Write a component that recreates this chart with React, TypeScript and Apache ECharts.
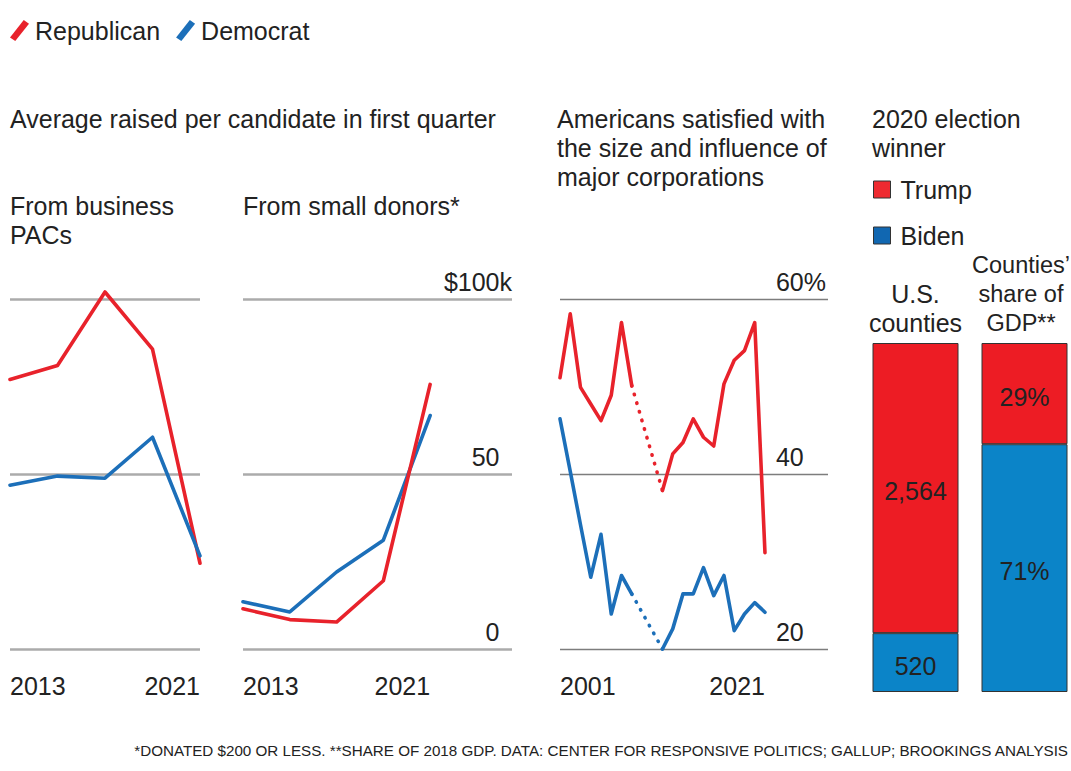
import React, { useEffect, useRef } from "react";
import * as echarts from "echarts";

const FONT = "'Liberation Sans', Arial, sans-serif";
const FS = 25;
const RED = "#E8222B";
const BLUE = "#1C6FB9";
const BAR_RED = "#ED1C24";
const BAR_BLUE = "#0B84C8";
const TEXT = "#222222";

// Panel 1 & 2: average raised per candidate in first quarter ($k)
const cycleYears = [2013, 2015, 2017, 2019, 2021];
const pacRep = [77, 81, 102, 85.7, 24.5];
const pacDem = [46.8, 49.4, 48.8, 60.5, 26.6];
const smallRep = [11.5, 8.4, 7.7, 19.5, 75.6];
const smallDem = [13.5, 10.6, 22.0, 31.1, 66.7];
const moneyTicks = [0, 50, 100];

// Panel 3: Americans satisfied with size and influence of major corporations (%)
const satYears = [2001, 2002, 2003, 2004, 2005, 2006, 2007, 2008, 2009, 2010, 2011, 2012, 2013, 2014, 2015, 2016, 2017, 2018, 2019, 2020, 2021];
const satRep = [51.0, 58.3, 49.9, 48.0, 46.1, 49.0, 57.3, 50.1, null, null, 38.1, 42.3, 43.6, 46.3, 44.2, 43.2, 50.3, 53.0, 54.1, 57.3, 31.0];
const satDem = [46.3, 40.3, 34.2, 28.2, 33.1, 24.0, 28.4, 26.3, null, null, 20.0, 22.3, 26.3, 26.3, 29.3, 26.1, 28.4, 22.1, 24.0, 25.3, 24.2];
const gapFrom = 2008;
const gapTo = 2011;

// Panel 4: 2020 election winner
const barCategories = ["U.S.\ncounties", "Counties\u2019\nshare of\nGDP**"];
const trumpValues = [2564, 29];
const bidenValues = [520, 71];
const barUnits = ["", "%"];

const SLASH = "path://M0.4,14.5 L11.4,0.6 L15.6,3.5 L4.6,17.4 Z";

function pairs(xs: number[], ys: (number | null)[]) {
  return xs.map((x, i) => [x, ys[i] === null ? null : ys[i]]);
}
function gapPairs(ys: (number | null)[]) {
  const a = satYears.indexOf(gapFrom);
  const b = satYears.indexOf(gapTo);
  return [[satYears[a], ys[a]], [satYears[b], ys[b]]];
}

export default function App() {
  const ref = useRef<HTMLDivElement>(null);
  useEffect(() => {
    if (!ref.current) return;
    const chart = echarts.init(ref.current, null, { renderer: "svg" });
    const totals = trumpValues.map((v, i) => v + bidenValues[i]);
    const fmt = (v: number, i: number) => v.toLocaleString("en-US") + barUnits[i];

    const lineBase = (name: string, color: string, gridIndex: number, data: any[]) => ({
      type: "line",
      name,
      xAxisIndex: gridIndex,
      yAxisIndex: gridIndex,
      data,
      symbol: "none",
      clip: false,
      connectNulls: false,
      color,
      lineStyle: { color, width: 3.6, cap: "round", join: "round" },
      z: 3,
    });
    const dotted = (name: string, color: string, data: any[]) => ({
      type: "line",
      name,
      xAxisIndex: 2,
      yAxisIndex: 2,
      data,
      symbol: "none",
      clip: false,
      color,
      lineStyle: { color, width: 3.6, type: [0.5, 8.5], cap: "round" },
      z: 3,
    });

    const xBase = {
      type: "value",
      axisLine: { show: false },
      axisTick: { show: false },
      splitLine: { show: false },
    };
    const yearLabel = {
      fontSize: FS,
      fontFamily: FONT,
      color: TEXT,
      margin: 24,
      formatter: (v: number) => String(v),
    };
    const heading = (x: number, y: number, text: string) => ({
      type: "text",
      x,
      y,
      style: { text, fontSize: FS, lineHeight: 29, fontFamily: FONT, fill: TEXT, verticalAlign: "top" },
    });

    const option: any = {
      animation: false,
      textStyle: { fontFamily: FONT },
      legend: [
        {
          data: ["Republican", "Democrat"],
          left: 10,
          top: 18,
          padding: 0,
          icon: SLASH,
          itemWidth: 19,
          itemHeight: 21,
          itemGap: 16,
          selectedMode: false,
          itemStyle: { borderWidth: 0 },
          textStyle: { fontSize: FS, color: TEXT, fontFamily: FONT, padding: [0, 0, 0, 1] },
        },
        {
          data: [
            { name: "Trump", itemStyle: { color: "#EE2A30" } },
            { name: "Biden", itemStyle: { color: "#1167B1" } },
          ],
          orient: "vertical",
          left: 873,
          top: 177,
          padding: 0,
          icon: "rect",
          itemWidth: 17,
          itemHeight: 17,
          itemGap: 21,
          selectedMode: false,
          itemStyle: { borderColor: "#333", borderWidth: 1 },
          textStyle: { fontSize: FS, lineHeight: 24, color: TEXT, fontFamily: FONT, padding: [0, 0, 0, 5] },
        },
      ],
      grid: [
        { left: 10, top: 299, width: 190, height: 350, outerBoundsMode: "none" },
        { left: 243, top: 299, width: 269, height: 350, outerBoundsMode: "none" },
        { left: 560, top: 299, width: 268, height: 350, outerBoundsMode: "none" },
        { left: 915.5, top: 343, width: 109, height: 349, outerBoundsMode: "none" },
      ],
      xAxis: [
        {
          ...xBase,
          gridIndex: 0,
          min: cycleYears[0],
          max: cycleYears[cycleYears.length - 1],
          axisLabel: { ...yearLabel, customValues: [2013, 2021], alignMinLabel: "left", alignMaxLabel: "right" },
        },
        {
          ...xBase,
          gridIndex: 1,
          min: cycleYears[0],
          max: 2024.5,
          axisLabel: { ...yearLabel, customValues: [2013, 2021], align: "right", alignMinLabel: "left" },
        },
        {
          ...xBase,
          gridIndex: 2,
          min: satYears[0],
          max: 2027.15,
          axisLabel: { ...yearLabel, customValues: [2001, 2021], align: "right", alignMinLabel: "left" },
        },
        {
          type: "category",
          gridIndex: 3,
          position: "top",
          boundaryGap: false,
          data: barCategories,
          axisLine: { show: false },
          axisTick: { show: false },
          axisLabel: {
            fontSize: FS,
            lineHeight: 29,
            color: TEXT,
            fontFamily: FONT,
            margin: 6,
            interval: 0,
            formatter: (v: string, i: number) =>
              i === 1 ? v.split("\n").map((l) => "{g|" + l + "}").join("\n") : v,
            rich: {
              g: { fontSize: 23.5, lineHeight: 29, color: TEXT, fontFamily: FONT, padding: [0, 7, 0, 0] },
            },
          },
        },
      ],
      yAxis: [
        {
          type: "value",
          gridIndex: 0,
          min: 0,
          max: 100,
          interval: 50,
          axisLine: { show: false },
          axisTick: { show: false },
          axisLabel: { show: false },
          splitLine: { lineStyle: { color: "#ababab", width: 2.5 } },
        },
        {
          type: "value",
          gridIndex: 1,
          position: "right",
          min: 0,
          max: 100,
          interval: 50,
          axisLine: { show: false },
          axisTick: { show: false },
          axisLabel: {
            inside: true,
            margin: 0,
            fontSize: FS,
            color: TEXT,
            fontFamily: FONT,
            verticalAlign: "bottom",
            padding: [0, 0, 5, 0],
            formatter: (v: number) => (v === moneyTicks[2] ? "$" + v + "k" : v + "{h|k}"),
            rich: { h: { color: "rgba(0,0,0,0)", fontSize: FS, fontFamily: FONT } },
          },
          splitLine: { lineStyle: { color: "#ababab", width: 2.5 } },
        },
        {
          type: "value",
          gridIndex: 2,
          position: "right",
          min: 20,
          max: 60,
          interval: 20,
          axisLine: { show: false },
          axisTick: { show: false },
          axisLabel: {
            inside: true,
            margin: 2,
            fontSize: FS,
            color: TEXT,
            fontFamily: FONT,
            verticalAlign: "bottom",
            padding: [0, 0, 5, 0],
            formatter: (v: number) => (v === 60 ? v + "%" : v + "{h|%}"),
            rich: { h: { color: "rgba(0,0,0,0)", fontSize: FS, fontFamily: FONT } },
          },
          splitLine: { lineStyle: { color: "#7d7d7d", width: 1.4 } },
        },
        {
          type: "value",
          gridIndex: 3,
          min: 0,
          max: 100,
          show: false,
        },
      ],
      series: [
        lineBase("Republican", RED, 0, pairs(cycleYears, pacRep)),
        lineBase("Democrat", BLUE, 0, pairs(cycleYears, pacDem)),
        lineBase("Democrat", BLUE, 1, pairs(cycleYears, smallDem)),
        lineBase("Republican", RED, 1, pairs(cycleYears, smallRep)),
        lineBase("Republican", RED, 2, pairs(satYears, satRep)),
        lineBase("Democrat", BLUE, 2, pairs(satYears, satDem)),
        dotted("Republican", RED, gapPairs(satRep)),
        dotted("Democrat", BLUE, gapPairs(satDem)),
        {
          type: "bar",
          name: "Biden",
          xAxisIndex: 3,
          yAxisIndex: 3,
          stack: "win",
          barWidth: 86,
          data: bidenValues.map((v, i) => (v / totals[i]) * 100),
          itemStyle: { color: BAR_BLUE, borderColor: "#333", borderWidth: 1 },
          label: {
            show: true,
            position: "inside",
            offset: [0, 3],
            fontSize: FS,
            color: TEXT,
            fontFamily: FONT,
            formatter: (p: any) => fmt(bidenValues[p.dataIndex], p.dataIndex),
          },
        },
        {
          type: "bar",
          name: "Trump",
          xAxisIndex: 3,
          yAxisIndex: 3,
          stack: "win",
          barWidth: 86,
          data: trumpValues.map((v, i) => (v / totals[i]) * 100),
          itemStyle: { color: BAR_RED, borderColor: "#333", borderWidth: 1 },
          label: {
            show: true,
            position: "inside",
            offset: [0, 3],
            fontSize: FS,
            color: TEXT,
            fontFamily: FONT,
            formatter: (p: any) => fmt(trumpValues[p.dataIndex], p.dataIndex),
          },
        },
      ],
      graphic: [
        heading(10, 104.5, "Average raised per candidate in first quarter"),
        heading(10, 191.5, "From business\nPACs"),
        heading(243, 191.5, "From small donors*"),
        heading(557, 104.5, "Americans satisfied with\nthe size and influence of\nmajor corporations"),
        heading(872, 104.5, "2020 election\nwinner"),
        {
          type: "text",
          x: 1068,
          y: 750,
          style: {
            text: "*DONATED $200 OR LESS. **SHARE OF 2018 GDP. DATA: CENTER FOR RESPONSIVE POLITICS; GALLUP; BROOKINGS ANALYSIS",
            fontSize: 15.2,
            fontFamily: FONT,
            fill: TEXT,
            align: "right",
            verticalAlign: "middle",
          },
        },
      ],
    };
    chart.setOption(option);
    return () => chart.dispose();
  }, []);
  return (
    <div
      ref={ref}
      style={{ position: "absolute", left: 0, top: 0, width: 1071, height: 771, background: "#ffffff" }}
    />
  );
}
